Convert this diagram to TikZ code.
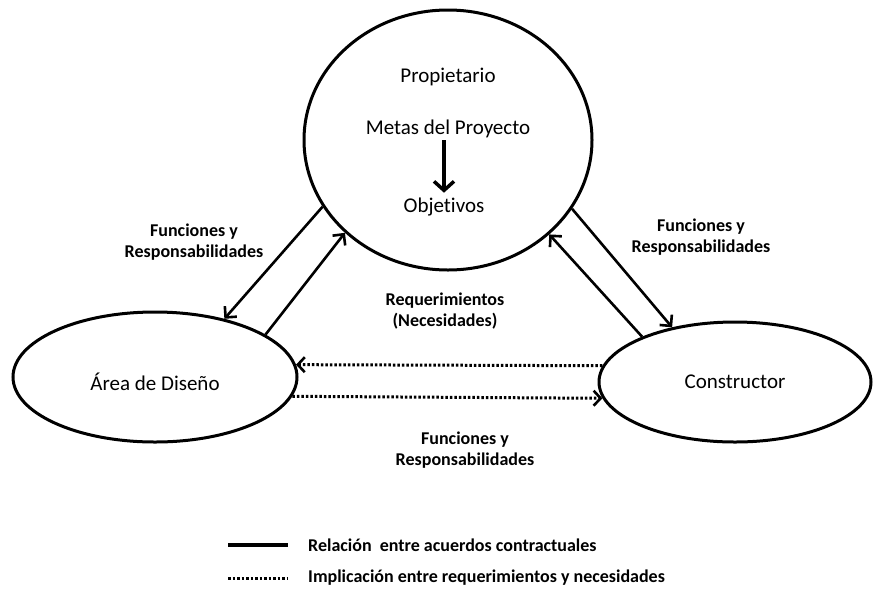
\documentclass[tikz,border=0pt]{standalone}
\usepackage{fontspec}
\setmainfont{Carlito}[Ligatures=NoCommon]
\usetikzlibrary{shapes.geometric,arrows.meta}
\tikzset{
  actor/.style={draw, ellipse, line width=3pt, inner sep=0pt},
  reg/.style={font=\fontsize{21}{25}\selectfont, inner sep=0pt},
  lbl/.style={font=\bfseries\fontsize{18}{21.5}\selectfont, align=center, inner sep=0pt},
  rel/.style={line width=2.6pt, -{Straight Barb[length=8pt,width=16pt]}},
  imp/.style={line width=3pt, dash pattern=on 2.6pt off 1.9pt, -{Straight Barb[length=7pt,width=15pt,line width=2.6pt]}},
  leglbl/.style={font=\bfseries\fontsize{18}{21.5}\selectfont, anchor=west, inner sep=0pt}
}
\begin{document}
\begin{tikzpicture}[x=1pt,y=-1pt]
\useasboundingbox (0,0) rectangle (873,590);
% actors
\node[actor, minimum width=288pt, minimum height=260pt] (own) at (448,140) {};
\node[actor, minimum width=284pt, minimum height=130pt] (des) at (155,377) {};
\node[actor, minimum width=272pt, minimum height=120pt] (con) at (735,382) {};
% texts in owner
\node[reg] (prop) at (448,77) {Propietario};
\node[reg] (metas) at (448,129) {Metas del Proyecto};
\node[reg] (obj) at (444,207) {Objetivos};
\draw[line width=4.5pt, shorten >=5pt, -{Straight Barb[length=9pt,width=20pt,line width=3.5pt]}] (metas.south -| obj) ++(0,2) -- (obj.north);
\node[reg] (desT) at (155,382) {Área de Diseño};
\node[reg] (conT) at (735,382) {Constructor};
% relations
\draw[rel] (own.208.7) -- (des.40);
\draw[rel] (des.21.4) -- (own.222.1);
\draw[rel] (own.331.3) -- (con.139);
\draw[rel] (con.154.9) -- (own.317.6);
% implications
\draw[imp] (con.173) -- (des.5.6);
\draw[imp] (des.-8.7) -- (con.187);
% labels
\node[lbl] (lf) at (194,242) {Funciones y\\Responsabilidades};
\node[lbl] (rf) at (701,237) {Funciones y\\Responsabilidades};
\node[lbl] (rq) at (445,311) {Requerimientos\\(Necesidades)};
\node[lbl] (bf) at (465,450) {Funciones y\\Responsabilidades};
% legend
\coordinate (l1a) at (228,545); \coordinate (l1b) at (288,545);
\coordinate (l2a) at (228,578); \coordinate (l2b) at (288,578);
\draw[line width=3.2pt] (l1a) -- (l1b);
\draw[line width=3pt, dash pattern=on 2.6pt off 1.9pt] (l2a) -- (l2b);
\node[leglbl] (lg1) at (308,545) {Relación\ \ entre acuerdos contractuales};
\node[leglbl] (lg2) at (308,578) {Implicación entre requerimientos y necesidades};
\end{tikzpicture}
\end{document}
